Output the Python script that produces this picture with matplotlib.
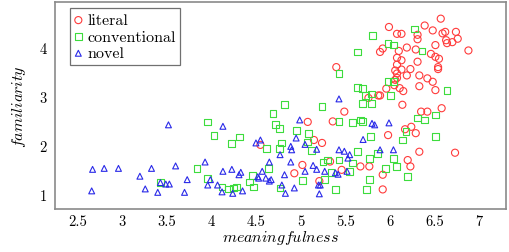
import matplotlib
matplotlib.use("Agg")
import matplotlib.pyplot as plt

# literal (red circles)
literal_x = [5.99, 6.08, 6.13, 6.31, 5.92, 5.89, 6.10, 6.19, 6.29, 6.08,
             6.13, 6.08, 6.13, 6.06, 6.08, 6.06, 6.08, 6.23, 6.19, 6.11,
             6.15, 6.05, 5.96, 5.40, 5.89, 5.87, 5.76, 6.31, 6.33, 6.31,
             6.57, 6.39, 6.48, 6.59, 6.62, 6.74, 6.63, 6.70, 6.64, 6.76,
             6.51, 6.88, 6.46, 6.51, 6.55, 6.54, 6.54, 6.33, 6.42, 6.48,
             6.51, 6.14, 5.49, 5.36, 6.35, 6.42, 6.58, 6.24, 6.29, 6.17,
             5.98, 5.24, 6.33, 6.73, 6.20, 5.33, 5.67, 5.77, 6.23, 5.46,
             5.92, 5.92, 5.08, 4.55, 5.15, 5.02, 4.93, 5.21]
literal_y = [4.43, 4.29, 4.29, 4.27, 3.99, 3.92, 3.94, 4.01, 3.97, 3.80,
             3.75, 3.66, 3.56, 3.54, 3.48, 3.35, 3.39, 3.57, 3.44, 3.18,
             3.12, 3.24, 3.17, 3.61, 3.03, 3.03, 2.98, 3.72, 3.22, 4.18,
             4.60, 4.46, 4.36, 4.30, 4.33, 4.33, 4.16, 4.12, 4.10, 4.19,
             4.06, 3.95, 3.88, 3.82, 3.78, 3.61, 3.57, 3.44, 3.38, 3.31,
             3.14, 2.84, 2.70, 2.50, 2.70, 2.70, 2.77, 2.39, 2.26, 2.34,
             2.22, 2.06, 1.88, 1.86, 1.71, 1.68, 1.58, 1.58, 1.58, 1.51,
             1.41, 1.11, 2.49, 2.02, 2.12, 1.61, 1.44, 1.28]

# conventional (green squares)
conventional_x = [5.81, 5.64, 5.98, 6.04, 6.28, 5.43, 5.64, 5.69, 5.98, 6.04,
                  5.79, 5.73, 6.01, 6.36, 6.64, 5.69, 5.79, 5.43, 5.58, 5.67,
                  5.69, 6.18, 5.78, 6.14, 6.31, 6.39, 6.51, 6.51, 5.64, 5.86,
                  5.77, 6.04, 5.43, 5.30, 5.58, 6.07, 5.95, 5.55, 5.34, 6.20,
                  5.27, 5.77, 5.39, 5.74, 4.82, 4.69, 5.24, 3.96, 4.72, 4.76,
                  4.95, 4.03, 4.32, 4.23, 5.09, 4.79, 4.62, 4.76, 5.08, 5.12,
                  3.84, 4.64, 3.96, 4.46, 4.43, 4.77, 4.47, 4.12, 4.19, 4.25,
                  4.28, 5.02, 5.25, 3.43]
conventional_y = [4.26, 3.92, 4.09, 4.06, 4.39, 3.48, 3.20, 3.17, 3.31, 3.31,
                  3.06, 3.03, 3.03, 3.94, 3.14, 2.86, 2.86, 2.50, 2.47, 2.53,
                  2.50, 2.29, 2.19, 2.12, 2.57, 2.53, 2.63, 2.19, 1.88, 1.85,
                  1.75, 1.75, 1.71, 1.71, 1.65, 1.58, 1.54, 1.48, 1.45, 1.37,
                  1.31, 1.31, 1.11, 1.11, 2.84, 2.66, 2.80, 2.49, 2.43, 2.35,
                  2.32, 2.22, 2.18, 2.05, 2.25, 2.06, 1.95, 1.95, 2.08, 1.91,
                  1.54, 1.54, 1.34, 1.40, 1.26, 1.14, 1.16, 1.16, 1.12, 1.14,
                  1.16, 1.29, 1.67, 1.25]

# novel (blue triangles)
novel_x = [3.52, 2.67, 2.80, 2.96, 3.33, 3.60, 3.20, 3.43, 3.49, 3.53,
           3.73, 3.26, 3.40, 3.70, 2.66, 4.13, 4.99, 4.50, 4.55, 4.95,
           4.89, 4.90, 5.05, 5.18, 4.77, 3.93, 4.65, 4.89, 4.13, 4.23,
           4.33, 4.31, 4.57, 4.52, 4.53, 4.61, 4.67, 4.65, 4.82, 5.05,
           5.14, 5.18, 5.27, 3.99, 3.96, 4.07, 4.35, 4.12, 4.24, 4.79,
           4.83, 4.93, 5.20, 5.22, 5.21, 5.43, 5.80, 5.83, 5.99, 5.70,
           5.43, 5.49, 5.55, 5.53, 5.89, 6.04, 5.52, 5.39, 5.42]
novel_y = [2.43, 1.52, 1.54, 1.54, 1.54, 1.59, 1.38, 1.25, 1.22, 1.22,
           1.31, 1.12, 1.05, 1.05, 1.08, 2.40, 2.53, 2.06, 2.12, 2.16,
           1.99, 1.92, 2.03, 1.93, 1.82, 1.67, 1.67, 1.67, 1.48, 1.52,
           1.46, 1.41, 1.48, 1.37, 1.34, 1.34, 1.31, 1.28, 1.41, 1.48,
           1.60, 1.52, 1.48, 1.31, 1.20, 1.20, 1.08, 1.06, 1.03, 1.20,
           1.03, 1.14, 1.20, 1.20, 1.02, 2.96, 2.46, 2.43, 2.47, 2.13,
           1.92, 1.89, 1.82, 1.75, 1.92, 1.92, 1.48, 1.45, 1.42]

x_ticks = [2.5, 3, 3.5, 4, 4.5, 5, 5.5, 6, 6.5, 7]
y_ticks = [1, 2, 3, 4]

plt.rcParams["font.family"] = ["cmr10", "DejaVu Serif"]
plt.rcParams["mathtext.fontset"] = "cm"
plt.rcParams["axes.unicode_minus"] = False

fig = plt.figure(figsize=(5.1, 2.53), dpi=100)
ax = fig.add_axes([0.108, 0.170, 0.884, 0.818])

ax.scatter(literal_x, literal_y, s=26, marker="o", facecolors="none",
           edgecolors="#ff3b3b", linewidths=0.8, label="literal")
ax.scatter(conventional_x, conventional_y, s=24, marker="s", facecolors="none",
           edgecolors="#3ddc3d", linewidths=0.8, label="conventional")
ax.scatter(novel_x, novel_y, s=18, marker="^", facecolors="none",
           edgecolors="#2a2ae8", linewidths=0.8, label="novel")

ax.set_xlim(2.25, 7.30)
ax.set_ylim(0.71, 4.94)
ax.set_xticks(x_ticks)
ax.set_xticklabels([f"{t:g}" for t in x_ticks])
ax.set_yticks(y_ticks)
ax.set_yticklabels([str(t) for t in y_ticks])
ax.tick_params(axis="x", length=0, labelsize=10.5, pad=4)
ax.tick_params(axis="y", length=0, labelsize=10.5, pad=6)

for sp in ax.spines.values():
    sp.set_color("#8a8a8a")
    sp.set_linewidth(1.2)

ax.set_xlabel(r"$\mathit{meaningfulness}$", fontsize=11.5, labelpad=0)
ax.set_ylabel(r"$\mathit{familiarity}$", fontsize=11.5, labelpad=8)

leg = ax.legend(loc="upper left", bbox_to_anchor=(0.025, 0.985), fancybox=False,
                edgecolor="#707070", fontsize=11.5, handlelength=0.5,
                handletextpad=0.3, borderpad=0.3, labelspacing=0.15,
                borderaxespad=0.2, framealpha=1)
leg.get_frame().set_linewidth(0.9)

plt.savefig("out.png", dpi=100)
plt.close(fig)
